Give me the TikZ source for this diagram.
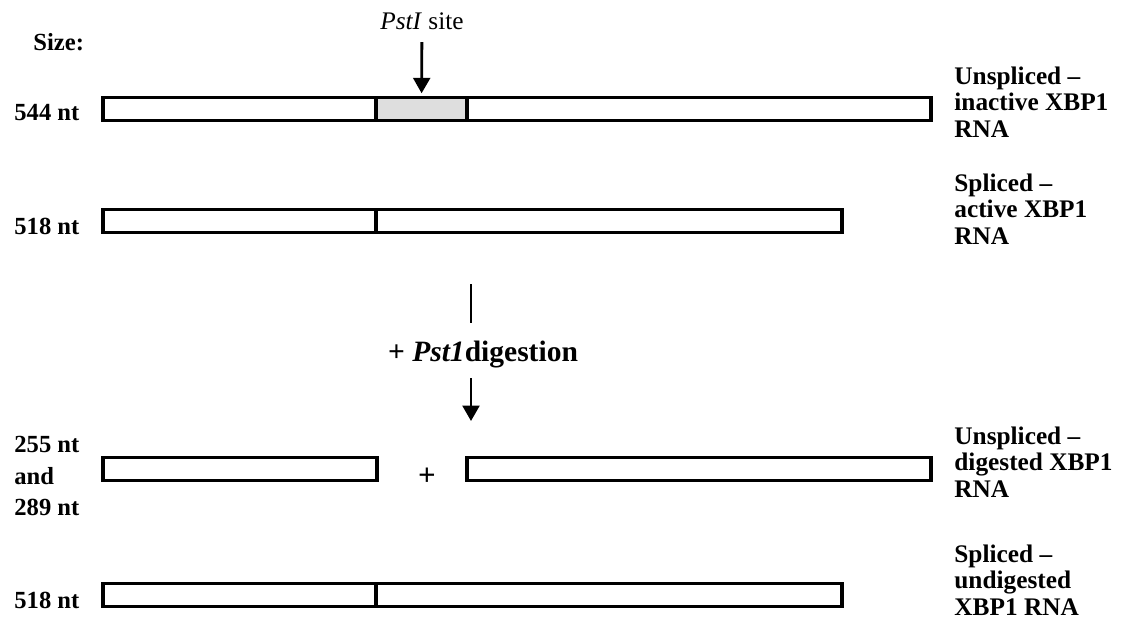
\documentclass[tikz,border=0pt]{standalone}
\usepackage{fontspec}
\setmainfont{Liberation Serif}
\usetikzlibrary{arrows.meta,positioning}
\tikzset{
  rna/.style={draw,line width=2.4pt,minimum height=23*0.025cm,inner sep=0pt,outer sep=0pt},
  lbl/.style={font=\fontsize{17.5}{22.5}\selectfont\bfseries,align=left,inner sep=0pt,anchor=west},
  rnaname/.style={font=\fontsize{18}{18.8}\selectfont\bfseries,align=left,inner sep=0pt,anchor=west},
}
\begin{document}
\begin{tikzpicture}[x=0.025cm,y=-0.025cm,>={Stealth[length=11pt,width=12pt,inset=0pt]},line width=2pt,node distance=0pt]
\useasboundingbox (0,0) rectangle (1123,633);
% sizes
\node[lbl] (size) at (32,42) {Size:};
\node[lbl] (n544) at (13,113) {544 nt};
\node[lbl] (n518a) at (13,226) {518 nt};
\node[lbl] (n255) at (13,476) {255 nt\\and\\289 nt};
\node[lbl] (n518b) at (13,600) {518 nt};
% unspliced
\node[rna,anchor=west,minimum width=273*0.025cm] (u1l) at (103,109) {};
\node[rna,fill=black!13,minimum width=91*0.025cm,right=of u1l] (u1s) {};
\node[rna,minimum width=464*0.025cm,right=of u1s] (u1r) {};
% spliced
\node[rna,anchor=west,minimum width=273*0.025cm] (s1l) at (103,221) {};
\node[rna,minimum width=466*0.025cm,right=of s1l] (s1r) {};
% digested
\node[rna,anchor=west,minimum width=274*0.025cm] (d1l) at (103,469) {};
\node[rna,anchor=west,minimum width=464*0.025cm] (d1r) at (467,469) {};
\node[font=\fontsize{22}{22}\selectfont\bfseries] (plus) at (427,477) {+};
% spliced, undigested
\node[rna,anchor=west,minimum width=273*0.025cm] (s2l) at (103,595) {};
\node[rna,minimum width=466*0.025cm,right=of s2l] (s2r) {};
% site and digestion
\node[font=\fontsize{18}{21}\selectfont,inner sep=2pt] (site) at (422,21) {\textit{PstI} site};
\draw[->,shorten <=6pt,shorten >=3pt] (site) -- (u1s);
\coordinate (cut) at (471,284);
\coordinate (tip) at (471,421);
\node[font=\fontsize{21}{24}\selectfont\bfseries,inner sep=0pt] (dig) at (483,355) {+ \textit{Pst1}digestion};
\draw[shorten >=12pt] (cut) -- (cut |- dig.north);
\draw[->,shorten <=6pt] (tip |- dig.south) -- (tip);
% names
\node[rnaname] (t1) at (953,102) {Unspliced --\\inactive XBP1\\RNA};
\node[rnaname] (t2) at (953,209) {Spliced --\\active XBP1\\RNA};
\node[rnaname] (t3) at (953,462) {Unspliced --\\digested XBP1\\RNA};
\node[rnaname] (t4) at (953,580) {Spliced --\\undigested\\XBP1 RNA};
\end{tikzpicture}
\end{document}
